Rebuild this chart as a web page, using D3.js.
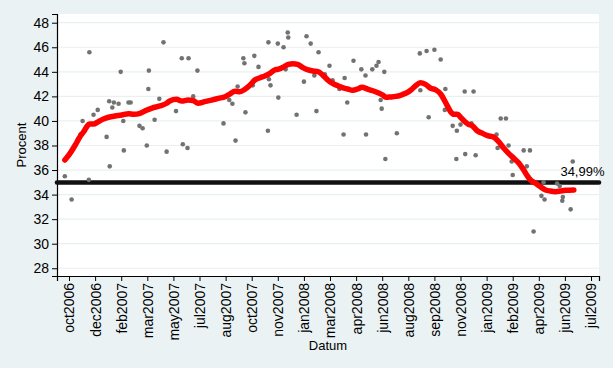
<!DOCTYPE html>
<html>
<head>
<meta charset="utf-8">
<script src="https://cdn.jsdelivr.net/npm/d3@7"></script>
<style>
  html, body { margin: 0; padding: 0; background: #eaf2f3; }
  svg { display: block; }
  text { font-family: "Liberation Sans", Arial, sans-serif; fill: #000; }
</style>
</head>
<body>
<script>
// ---------- data ----------
const pollDates = [
"2006-10-18","2006-10-31","2006-11-12","2006-11-17","2006-11-21","2006-12-03","2006-12-04","2006-12-12","2006-12-20",
"2007-01-06","2007-01-12","2007-01-11","2007-01-17","2007-01-20","2007-01-29","2007-02-02","2007-02-07","2007-02-08","2007-02-17","2007-02-21",
"2007-03-10","2007-03-16","2007-03-24","2007-03-28","2007-03-27","2007-04-08","2007-04-17","2007-04-25","2007-05-01","2007-05-19","2007-05-30","2007-06-01","2007-06-10","2007-06-12","2007-06-21","2007-06-29",
"2007-08-18","2007-08-29","2007-09-04","2007-09-10","2007-09-14","2007-09-25","2007-09-27","2007-09-29","2007-10-13","2007-10-16","2007-10-24",
"2007-11-11","2007-11-12","2007-11-13","2007-11-16","2007-11-30","2007-12-01","2007-12-11","2007-12-15","2007-12-19","2007-12-20",
"2008-01-05","2008-01-19","2008-01-24","2008-02-01","2008-02-08","2008-02-12","2008-02-16","2008-02-28","2008-03-08","2008-03-14","2008-03-27",
"2008-04-04","2008-04-06","2008-04-11","2008-04-23","2008-05-08","2008-05-16","2008-05-17","2008-05-29","2008-06-06","2008-06-10","2008-06-14","2008-06-16","2008-06-21","2008-06-23",
"2008-07-15","2008-08-28","2008-08-29","2008-09-10","2008-09-14","2008-09-25","2008-10-07","2008-10-16","2008-10-15",
"2008-10-30","2008-11-07","2008-11-06","2008-11-14","2008-11-22","2008-11-23","2008-12-05","2008-12-09","2008-12-13",
"2009-01-22","2009-01-24","2009-01-30","2009-02-09","2009-02-14","2009-02-20","2009-02-22","2009-03-15","2009-03-21","2009-03-27",
"2009-04-03","2009-04-18","2009-04-22","2009-04-24","2009-05-18","2009-05-23","2009-05-29","2009-05-28","2009-06-13","2009-06-17"
];
const pollValues = [
35.5,33.6,38.5,38.9,40.0,35.2,45.6,40.5,40.9,
38.7,36.3,41.6,41.1,41.5,41.4,44.0,40.0,37.6,41.5,41.5,
39.6,39.4,38.0,44.1,42.6,40.1,41.8,46.4,37.5,40.8,45.1,38.1,37.8,45.1,42.0,44.1,
39.8,41.7,41.4,38.4,42.8,45.1,44.7,40.7,42.9,45.3,44.4,
39.2,46.4,43.4,42.9,46.3,41.9,46.0,44.2,47.2,46.8,
40.5,43.2,46.9,46.3,43.7,40.8,45.6,43.8,44.5,43.3,42.6,
38.9,43.5,41.5,44.9,44.2,43.7,38.9,44.2,44.5,44.8,41.7,41.0,44.0,36.9,
39.0,45.5,42.5,45.7,40.3,45.8,45.0,42.6,40.9,
39.6,39.2,36.9,39.7,42.4,37.3,39.8,42.4,37.2,
38.9,37.8,40.2,40.2,38.0,36.7,35.6,37.6,36.3,37.6,
31.0,33.9,35.0,33.6,34.9,34.7,33.8,33.5,32.8,36.7
];

const trendDates = [
"2006-10-18","2006-10-28","2006-11-07","2006-11-16","2006-11-23","2006-11-29","2006-12-04","2006-12-12","2006-12-21","2006-12-31",
"2007-01-10","2007-01-22","2007-02-04","2007-02-17","2007-02-27","2007-03-11","2007-03-21","2007-04-03","2007-04-18","2007-05-01",
"2007-05-07","2007-05-20","2007-05-30","2007-06-11","2007-06-21","2007-06-30","2007-07-13","2007-07-26","2007-08-08","2007-08-21",
"2007-08-30","2007-09-09","2007-09-18","2007-09-28","2007-10-08","2007-10-17","2007-10-27","2007-11-05","2007-11-15","2007-11-24",
"2007-11-30","2007-12-10","2007-12-20","2007-12-29","2008-01-07","2008-01-17","2008-01-27","2008-02-05","2008-02-15","2008-02-24",
"2008-03-05","2008-03-14","2008-03-24","2008-04-02","2008-04-12","2008-04-21","2008-05-01","2008-05-09","2008-05-20","2008-05-30",
"2008-06-09","2008-06-18","2008-06-24","2008-07-03","2008-07-13","2008-07-22","2008-08-01","2008-08-11","2008-08-20","2008-08-29",
"2008-09-08","2008-09-18","2008-09-28","2008-10-07","2008-10-14","2008-10-20","2008-10-26","2008-11-02","2008-11-08","2008-11-15",
"2008-11-21","2008-11-28","2008-12-07","2008-12-16","2008-12-26","2009-01-05","2009-01-17","2009-01-26","2009-02-05","2009-02-14",
"2009-02-24","2009-03-06","2009-03-15","2009-03-22","2009-03-28","2009-04-07","2009-04-16","2009-04-26","2009-05-05","2009-05-15",
"2009-05-24","2009-06-03","2009-06-19"
];
const trendValues = [
36.82,37.36,38.04,38.72,39.12,39.53,39.75,39.75,39.94,40.16,
40.30,40.40,40.48,40.59,40.54,40.62,40.83,41.05,41.22,41.44,
41.62,41.76,41.62,41.70,41.65,41.44,41.57,41.70,41.84,41.97,
42.19,42.41,42.38,42.58,42.93,43.33,43.52,43.66,43.88,44.15,
44.20,44.37,44.61,44.66,44.61,44.34,44.15,44.07,44.01,43.74,
43.33,43.06,42.87,42.71,42.60,42.50,42.60,42.74,42.60,42.46,
42.30,42.11,41.92,41.95,42.00,42.09,42.25,42.52,42.87,43.11,
42.98,42.66,42.52,42.19,41.70,41.21,40.75,40.54,40.54,40.26,
39.99,39.75,39.59,39.20,38.99,38.80,38.67,38.31,37.77,37.36,
36.96,36.55,36.00,35.52,35.19,34.92,34.64,34.38,34.29,34.24,
34.29,34.35,34.38
];

const refValue = 34.99;
const refLabel = "34,99%";

const yTicks = [28,30,32,34,36,38,40,42,44,46,48];
const xTickDates = [
"2006-10-26","2006-12-15","2007-02-03","2007-03-25","2007-05-14","2007-07-03","2007-08-22",
"2007-10-11","2007-11-30","2008-01-19","2008-03-09","2008-04-28","2008-06-17","2008-08-06",
"2008-09-25","2008-11-14","2009-01-03","2009-02-22","2009-04-13","2009-06-02","2009-07-22"
];
const xTickLabels = [
"oct2006","dec2006","feb2007","mar2007","may2007","jul2007","aug2007",
"oct2007","nov2007","jan2008","mar2008","apr2008","jun2008","aug2008",
"sep2008","nov2008","jan2009","feb2009","apr2009","jun2009","jul2009"
];
const xTitle = "Datum";
const yTitle = "Procent";

// ---------- layout ----------
const W = 613, H = 368;
const L = 57, R = 599, T = 14, B = 276;
const parse = d3.timeParse("%Y-%m-%d");

const svg = d3.select("body").append("svg").attr("width", W).attr("height", H);
svg.append("rect").attr("width", W).attr("height", H).attr("fill", "#eaf2f3");
svg.append("rect").attr("x", L).attr("y", T).attr("width", R - L).attr("height", B - T).attr("fill", "#fff");

const x = d3.scaleTime().domain([parse("2006-10-03"), new Date(2009, 7, 6, 7)]).range([L, R]);
const y = d3.scaleLinear().domain([27.37, 48.71]).range([B, T]);

// grid
svg.append("g").selectAll("line").data(yTicks).join("line")
  .attr("x1", L).attr("x2", R).attr("y1", d => y(d)).attr("y2", d => y(d))
  .attr("stroke", "#e8f0f1").attr("stroke-width", 1.2);

// axes
const yAxis = svg.append("g").attr("transform", `translate(${L},0)`)
  .call(d3.axisLeft(y).tickValues(yTicks).tickSize(5).tickPadding(3).tickFormat(d3.format("d")));
const xAxis = svg.append("g").attr("transform", `translate(0,${B})`)
  .call(d3.axisBottom(x).tickValues(xTickDates.map(parse)).tickSize(5).tickPadding(2)
        .tickFormat((d, i) => xTickLabels[i]));
[yAxis, xAxis].forEach(g => {
  g.select(".domain").attr("stroke", "#000").attr("stroke-width", 1.2);
  g.selectAll(".tick line").attr("stroke", "#000");
  g.selectAll("text").attr("font-family", '"Liberation Sans", Arial, sans-serif').attr("font-size", 14).attr("fill", "#000");
});
xAxis.selectAll(".tick text")
  .attr("transform", "rotate(-90)")
  .attr("text-anchor", "end")
  .attr("x", -7).attr("y", 0).attr("dy", "0.35em");

// titles
svg.append("text").attr("x", (L + R) / 2).attr("y", 350).attr("text-anchor", "middle")
  .attr("font-size", 13).text(xTitle);
svg.append("text").attr("transform", `translate(26,${(T + B) / 2}) rotate(-90)`)
  .attr("text-anchor", "middle").attr("font-size", 13).text(yTitle);

// reference line
svg.append("line").attr("x1", L).attr("x2", R).attr("y1", y(refValue)).attr("y2", y(refValue))
  .attr("stroke", "#111").attr("stroke-width", 4.6).attr("stroke-linecap", "round");
svg.append("text").attr("x", 604.5).attr("y", y(refValue) - 6).attr("text-anchor", "end")
  .attr("font-size", 13).text(refLabel);

// poll points
const polls = pollDates.map((d, i) => ({ d: parse(d), v: pollValues[i] }));
svg.append("g").selectAll("circle").data(polls).join("circle")
  .attr("cx", p => x(p.d)).attr("cy", p => y(p.v)).attr("r", 2.3)
  .attr("fill", "#727272");

// trend line
const trend = trendDates.map((d, i) => ({ d: parse(d), v: trendValues[i] }));
svg.append("path").datum(trend)
  .attr("d", d3.line().x(p => x(p.d)).y(p => y(p.v)).curve(d3.curveMonotoneX))
  .attr("fill", "none").attr("stroke", "#ff0000").attr("stroke-width", 5.5)
  .attr("stroke-linejoin", "round").attr("stroke-linecap", "round");
</script>
</body>
</html>
